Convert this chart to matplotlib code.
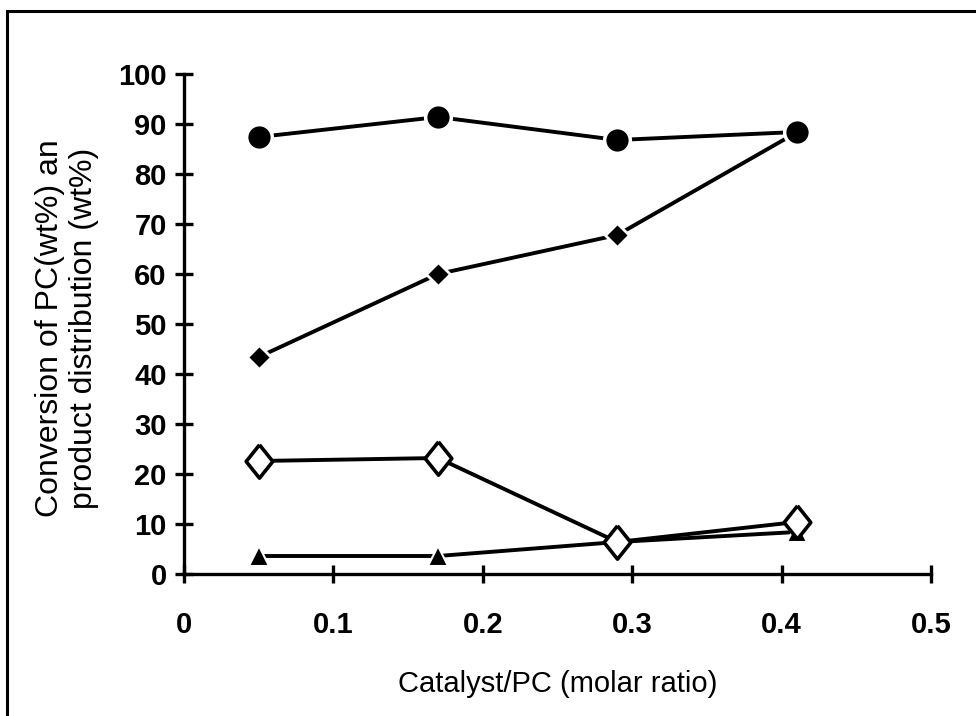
import matplotlib
matplotlib.use("Agg")
import matplotlib.pyplot as plt
from matplotlib.patches import Rectangle

x = [0.05, 0.17, 0.29, 0.41]
conversion = [87.4, 91.4, 86.8, 88.4]        # filled circles
product_a = [43.4, 60.0, 67.8, 88.3]         # small filled diamonds
product_b = [22.6, 23.2, 6.4, 10.4]          # open diamonds
product_c = [3.6, 3.6, 6.4, 8.4]             # filled triangles

xticks = [0, 0.1, 0.2, 0.3, 0.4, 0.5]
xticklabels = ["0", "0.1", "0.2", "0.3", "0.4", "0.5"]
yticks = list(range(0, 101, 10))

plt.rcParams['font.family'] = ['Liberation Sans', 'DejaVu Sans']

fig = plt.figure(figsize=(9.76, 7.16), dpi=100)
fig.patches.append(Rectangle((7/976, -0.1), 1.2, 1 - 11/716 + 0.1, transform=fig.transFigure,
                             fill=False, edgecolor='black', linewidth=2.2))
ax = fig.add_axes([184/976, 1 - 574/716, (931 - 184)/976, (574 - 74)/716])

tall_diamond = [(0, 1), (0.8, 0), (0, -1), (-0.8, 0), (0, 1)]

lw = 2.8
ax.plot(x, product_c, color='black', lw=lw, marker='^', ms=15, mfc='black', mec='white', mew=1.5, zorder=3)
ax.plot(x, product_b, color='black', lw=lw, marker=tall_diamond, ms=24, mfc='white', mec='black', mew=2.6, zorder=4)
ax.plot(x, product_a, color='black', lw=lw, marker='D', ms=12, mfc='black', mec='white', mew=2.0, zorder=5)
ax.plot(x, conversion, color='black', lw=lw, marker='o', ms=18.5, mfc='black', mec='white', mew=2.5, zorder=6)

ax.set_xlim(0, 0.5)
ax.set_ylim(0, 100)
ax.set_xticks(xticks)
ax.set_xticklabels(xticklabels)
ax.set_yticks(yticks)
for s in ['top', 'right']:
    ax.spines[s].set_visible(False)
for s in ['left', 'bottom']:
    ax.spines[s].set_linewidth(2.4)
ax.tick_params(axis='both', direction='inout', length=13, width=2.4, labelsize=21)
ax.tick_params(axis='y', pad=6)
ax.tick_params(axis='x', pad=20)
for lab in ax.get_xticklabels() + ax.get_yticklabels():
    lab.set_fontweight('bold')

ax.set_xlabel("Catalyst/PC (molar ratio)", fontsize=21)
ax.xaxis.set_label_coords(0.5, (574 - 684) / 500, transform=ax.transAxes)
ax.set_ylabel("Conversion of PC(wt%) an\nproduct distribution (wt%)", fontsize=23, linespacing=1.2)
ax.yaxis.set_label_coords((67 - 184) / 747, (574 - 328) / 500, transform=ax.transAxes)
ax.xaxis.label.set_va('center')
ax.yaxis.label.set_va('center')
ax.patch.set_visible(False)

fig.savefig("out.png", dpi=100)
